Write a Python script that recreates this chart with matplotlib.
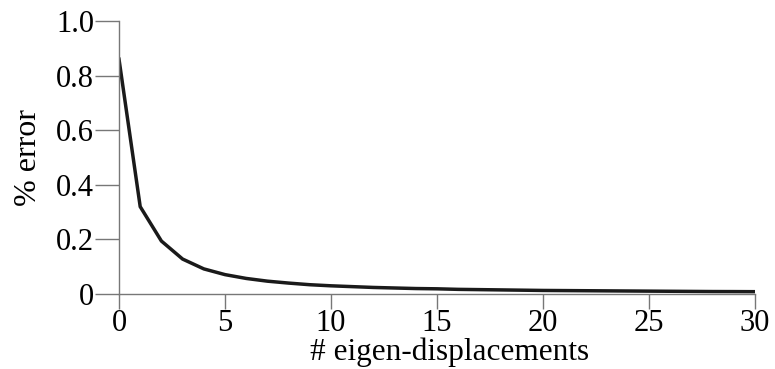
import matplotlib
matplotlib.use("Agg")
import matplotlib.pyplot as plt

n_eigen = list(range(0, 31))
pct_error = [0.86, 0.32, 0.194, 0.128, 0.092, 0.071, 0.057, 0.047, 0.040, 0.034,
             0.030, 0.027, 0.024, 0.022, 0.020, 0.019, 0.017, 0.016, 0.015, 0.014,
             0.013, 0.0125, 0.012, 0.0115, 0.011, 0.0105, 0.010, 0.0095, 0.009, 0.0088, 0.0085]
xticks = [0, 5, 10, 15, 20, 25, 30]
yticks = [0, 0.2, 0.4, 0.6, 0.8, 1.0]
ytick_labels = ["0", "0.2", "0.4", "0.6", "0.8", "1.0"]

plt.rcParams['font.family'] = ['Liberation Serif', 'DejaVu Serif']
fig = plt.figure(figsize=(7.75, 3.69), dpi=100)
ax = fig.add_axes([119/775, 1-294/369, (755-119)/775, (294-21)/369])
ax.plot(n_eigen, pct_error, color='#1a1a1a', lw=2.5, solid_joinstyle='miter')
ax.set_xlim(0, 30)
ax.set_ylim(0, 1.0)
ax.set_xticks(xticks)
ax.set_yticks(yticks)
ax.set_yticklabels(ytick_labels)
for s in ['top', 'right']:
    ax.spines[s].set_visible(False)
for s in ['left', 'bottom']:
    ax.spines[s].set_color('#777777')
    ax.spines[s].set_linewidth(1.0)
ax.tick_params(axis='x', direction='out', length=11, width=1.0, color='#777777', labelsize=22, pad=0)
ax.tick_params(axis='y', direction='out', length=17, width=1.0, color='#777777', labelsize=22, pad=1)
ax.set_xlabel('# eigen-displacements', fontsize=22.5)
ax.xaxis.set_label_coords(0.52, -0.158)
ax.set_ylabel('% error', fontsize=23, labelpad=9)
fig.savefig('out.png', dpi=100)
